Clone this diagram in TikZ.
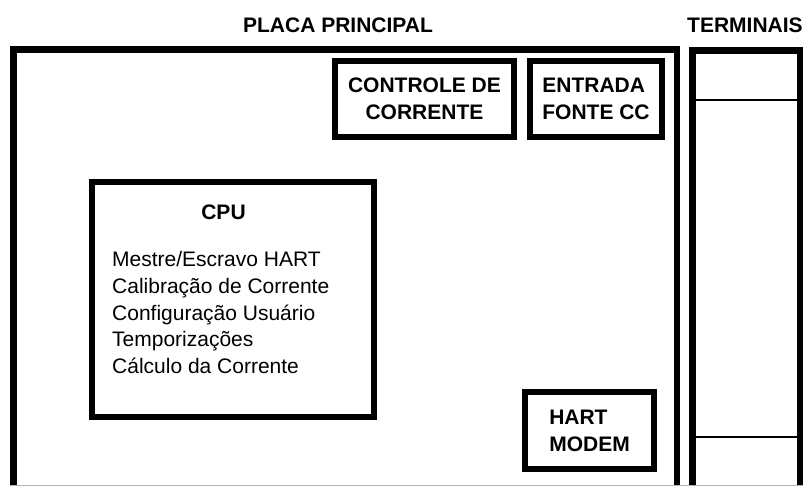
\documentclass[tikz,border=0pt]{standalone}
\usepackage{fontspec}
\setmainfont{Liberation Sans}
\usetikzlibrary{positioning}
\tikzstyle{frame}=[draw,line width=6.5pt]
\tikzstyle{block}=[rectangle,draw,line width=6pt,inner sep=0pt,align=left,font=\bfseries\fontsize{21}{27}\selectfont]
\tikzstyle{divider}=[draw,line width=2pt]
\tikzstyle{title} = [inner sep=0pt,font=\bfseries\fontsize{21}{27}\selectfont]
\tikzstyle{item} = [inner sep=0pt,anchor=base west,font=\fontsize{21}{27}\selectfont]

\begin{document}
\begin{tikzpicture}[x=1pt,y=-1pt]
 \useasboundingbox (0,0) rectangle (803,486);
 \clip (0,0) rectangle (803,486);

 %frames
 \path[frame] (13.25,520) |- (677,49.5) -- (677,520);
 \path[frame,line width=7pt] (692.5,520) |- (800,50.5) -- (800,520);
 \path[draw,gray!60,line width=1pt] (10,485.5) -- (803,485.5);

 \node[title,anchor=base] (placa) at (338,33) {PLACA PRINCIPAL};
 \node[title,anchor=base west] (term) at (687,33) {TERMINAIS};

 %terminais
 \coordinate (t1) at (696,100);
 \coordinate (t2) at (696,437);
 \path[divider] (t1) -- +(104,0);
 \path[divider] (t2) -- +(104,0);

 %blocos
 \node[block,align=center,minimum width=179pt,minimum height=76pt] (ctrl) at (424.5,99) {CONTROLE DE\\CORRENTE};
 \foreach \x/\y/\w/\h/\name/\label in {596/99/132/76/fonte/{ENTRADA\\FONTE CC}, 589.5/430.5/129/77/modem/{HART\\MODEM}}
        \node[block,minimum width=\w pt,minimum height=\h pt] (\name) at (\x,\y) {\label};

 %CPU
 \node[block,minimum width=282pt,minimum height=235pt] (cpu) at (233,299.5) {};
 \node[title,anchor=base] (cputitle) at (223.5,220) {CPU};
 \foreach \txt [count=\i] in {Mestre/Escravo HART, Calibração de Corrente, Configuração Usuário, Temporizações, Cálculo da Corrente}
        \node[item] (l\i) at (112,240.4+\i*26.6) {\txt};

\end{tikzpicture}
\end{document}
